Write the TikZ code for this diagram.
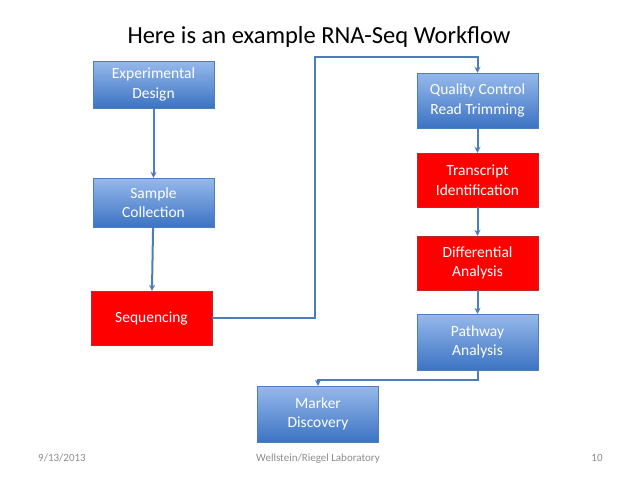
\documentclass[tikz,border=0pt]{standalone}
\usepackage{fontspec}
\setmainfont{Carlito}
\definecolor{blueTop}{RGB}{150, 185, 235}
\definecolor{blueBot}{RGB}{60, 115, 195}
\definecolor{blueEdge}{RGB}{75, 126, 187}
\definecolor{redFill}{RGB}{255, 0, 0}
\definecolor{redEdge}{RGB}{190, 40, 40}
\definecolor{footGray}{RGB}{140, 140, 140}
\usetikzlibrary{shapes, arrows.meta, positioning, calc}

\tikzset{
  stage/.style={draw=blueEdge, top color=blueTop, bottom color=blueBot, text=white,
    minimum width=121pt, minimum height=54pt, align=center, inner sep=2pt,
    font=\fontsize{15.5}{19.5}\selectfont},
  hotstage/.style={stage, draw=redEdge, top color=redFill, bottom color=redFill},
  flow/.style={draw=blueEdge, line width=2pt, -{Stealth[length=6pt, width=6pt]}},
  footer/.style={text=footGray, anchor=base, font=\fontsize{11}{13}\selectfont}
}

\begin{document}
\begin{tikzpicture}[x=1pt, y=-1pt]
  \useasboundingbox (0,0) rectangle (638,479);

  \node (title) at (319,37) {\fontsize{24.5}{28}\selectfont Here is an example RNA-Seq Workflow};

  % left column
  \node[stage, minimum height=47pt] (design) at (153.5,84.5) {Experimental\\Design};
  \node[stage, minimum height=49pt] (sample) at (153.5,202.5) {Sample\\Collection};
  \node[hotstage] (seq) at (151.5,318) {Sequencing};

  % right column
  \node[stage, minimum height=55pt] (qc) at (477.5,100.5) {Quality Control\\Read Trimming};
  \node[hotstage] (trans) at (477.5,180) {Transcript\\Identification};
  \node[hotstage] (diff) at (477.5,263) {Differential\\Analysis};
  \node[stage, minimum height=56pt] (path) at (477.5,342) {Pathway\\Analysis};
  \node[stage, minimum height=56pt] (marker) at (318,414) {Marker\\Discovery};

  \draw[flow] (design) -- (sample);
  \draw[flow] (sample) -- (seq);
  \coordinate (turn) at (315,57);
  \draw[flow] (seq.east) -| (turn) -| (qc.north);
  \draw[flow] (qc) -- (trans);
  \draw[flow] (trans) -- (diff);
  \draw[flow] (diff) -- (path);
  \draw[flow] (path.south) -- ++(0,10) -| (marker.north);

  % footer
  \node[footer] (date) at (62,461) {9/13/2013};
  \node[footer] (lab) at (318,461) {Wellstein/Riegel Laboratory};
  \node[footer] (page) at (597,461) {10};
\end{tikzpicture}
\end{document}
